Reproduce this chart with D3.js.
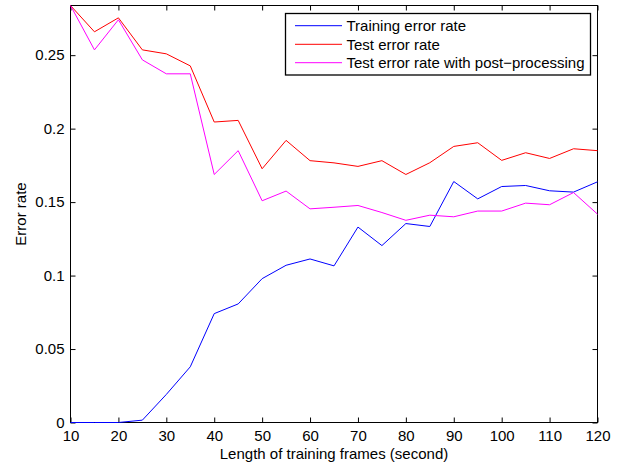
<!DOCTYPE html>
<html><head><meta charset="utf-8">
<script src="https://cdn.jsdelivr.net/npm/d3@7"></script>
<style>body{margin:0;background:#fff;} svg{display:block;} text{font-family:"Liberation Sans",Arial,sans-serif;}</style>
</head><body>
<svg id="chart" width="622" height="466"></svg>
<script>
const xValues = [10,15,20,25,30,35,40,45,50,55,60,65,70,75,80,85,90,95,100,105,110,115,120];
const trainingError = [0,0,0,0.0016,0.0191,0.0379,0.0741,0.0807,0.0979,0.1070,0.1113,0.1066,0.1330,0.1204,0.1354,0.1334,0.1640,0.1522,0.1606,0.1613,0.1577,0.1568,0.1638];
const testError = [0.2838,0.2659,0.2754,0.2536,0.2509,0.2427,0.2045,0.2056,0.1727,0.1920,0.1782,0.1767,0.1743,0.1782,0.1688,0.1768,0.1879,0.1904,0.1784,0.1836,0.1797,0.1863,0.1850];
const testErrorPost = [0.2838,0.2536,0.2741,0.2468,0.2373,0.2373,0.1688,0.1850,0.1509,0.1575,0.1454,0.1465,0.1477,0.1429,0.1376,0.1411,0.1400,0.1439,0.1439,0.1493,0.1482,0.1565,0.1418];
const xTicks = [10,20,30,40,50,60,70,80,90,100,110,120];
const yTicks = [0,0.05,0.1,0.15,0.2,0.25];
const yTickLabels = ["0","0.05","0.1","0.15","0.2","0.25"];
const seriesNames = ["Training error rate","Test error rate","Test error rate with post\u2212processing"];
const seriesColors = ["#0000ff","#ff0000","#ff00ff"];
const xLabel = "Length of training frames (second)";
const yLabel = "Error rate";

const svg = d3.select("#chart");
const L = 70.5, R = 597.5, T = 5.5, B = 422.5;
const x = d3.scaleLinear().domain([10,120]).range([L,R]);
const y = d3.scaleLinear().domain([0,0.2838]).range([B,T]);
const fs = 15;

// axes
const axB = svg.append("g").attr("transform",`translate(0,${B})`)
  .call(d3.axisBottom(x).tickValues(xTicks).tickSize(-5).tickPadding(8).tickFormat(d3.format("d")));
const axT = svg.append("g").attr("transform",`translate(0,${T})`)
  .call(d3.axisTop(x).tickValues(xTicks).tickSize(-5).tickFormat(""));
const axL = svg.append("g").attr("transform",`translate(${L},0)`)
  .call(d3.axisLeft(y).tickValues(yTicks).tickSize(-5).tickPadding(6).tickFormat((d,i)=>yTickLabels[i]));
const axR = svg.append("g").attr("transform",`translate(${R},0)`)
  .call(d3.axisRight(y).tickValues(yTicks).tickSize(-5).tickFormat(""));
[axB,axT,axL,axR].forEach(a=>{
  a.select(".domain").remove();
  a.selectAll("line").attr("stroke","#000");
  a.selectAll("text").attr("font-size",fs).attr("fill","#000").attr("font-family","Liberation Sans, Arial, sans-serif");
});
// box
svg.append("rect").attr("x",L).attr("y",T).attr("width",R-L).attr("height",B-T)
  .attr("fill","none").attr("stroke","#000").attr("stroke-width",1);

// lines (drawn over the box, like the original)
const seriesData = [trainingError, testError, testErrorPost];
const line = d3.line().x((d,i)=>x(xValues[i])).y(d=>y(d));
seriesData.forEach((s,k)=>{
  svg.append("path").datum(s).attr("d",line).attr("fill","none")
    .attr("stroke",seriesColors[k]).attr("stroke-width",1);
});

// labels
svg.append("text").attr("x",(L+R)/2).attr("y",459).attr("text-anchor","middle")
  .attr("font-size",fs).text(xLabel);
svg.append("text").attr("transform",`translate(26,${(T+B)/2}) rotate(-90)`).attr("text-anchor","middle")
  .attr("font-size",fs).text(yLabel);

// legend
const lg = svg.append("g");
lg.append("rect").attr("x",285.5).attr("y",13.5).attr("width",305).attr("height",61.5)
  .attr("fill","#fff").attr("stroke","#000").attr("stroke-width",1.3);
const rowY = [25.7,44.3,62.7];
seriesNames.forEach((n,k)=>{
  lg.append("line").attr("x1",295).attr("x2",342).attr("y1",rowY[k]).attr("y2",rowY[k])
    .attr("stroke",seriesColors[k]).attr("stroke-width",1);
  lg.append("text").attr("x",346.5).attr("y",rowY[k]+5.3).attr("font-size",fs).text(n);
});
</script>
</body></html>
